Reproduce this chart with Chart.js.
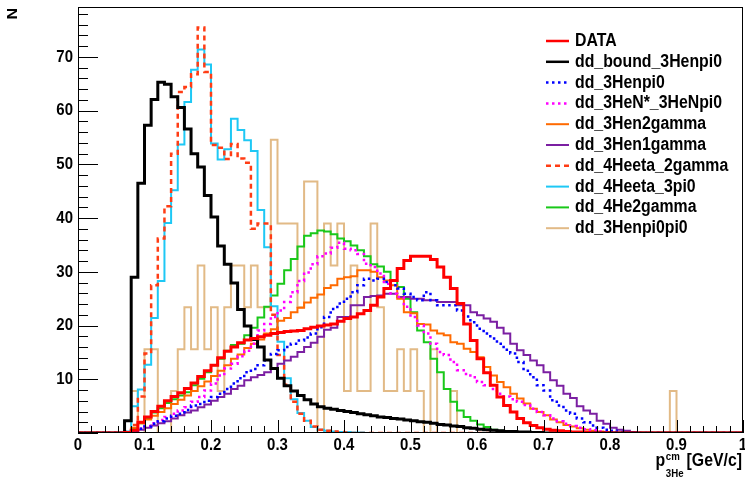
<!DOCTYPE html>
<html>
<head>
<meta charset="utf-8">
<script src="https://cdn.jsdelivr.net/npm/chart.js@4.4.0/dist/chart.umd.min.js"></script>
<style>
    html, body { margin: 0; padding: 0; background: #fff; }
    #wrap { width: 745px; height: 478px; }
</style>
</head>
<body>
<div id="wrap"><canvas id="momentumChart" width="745" height="478"></canvas></div>
<script>
// Binning: 100 bins of 0.01 from 0 to 1, arrays below start at bin 0.07
const binWidth = 0.01;
const nBins = 100;
const firstBin = 7;

// Axis ticks
const xTicks = [0, 0.1, 0.2, 0.3, 0.4, 0.5, 0.6, 0.7, 0.8, 0.9, 1];
const xTickLabels = ["0", "0.1", "0.2", "0.3", "0.4", "0.5", "0.6", "0.7", "0.8", "0.9", "1"];
const yTicks = [10, 20, 30, 40, 50, 60, 70];
const yTickLabels = ["10", "20", "30", "40", "50", "60", "70"];
const yMax = 79.3;

// Series names (legend order)
const seriesNames = ["DATA", "dd_bound_3Henpi0", "dd_3Henpi0", "dd_3HeN*_3HeNpi0", "dd_3Hen2gamma",
    "dd_3Hen1gamma", "dd_4Heeta_2gamma", "dd_4Heeta_3pi0", "dd_4He2gamma", "dd_3Henpi0pi0"];

// Bin contents, from bin 0.07 on
const dataCounts = [0.1, 0.5, 2.0, 3.0, 4.0, 5.0, 6.0, 6.8, 7.5, 8.3,
    9.3, 10.5, 11.6, 12.6, 14.0, 15.2, 16.0, 16.8, 17.3, 17.6,
    17.9, 18.2, 18.5, 18.7, 18.9, 19.0, 19.1, 19.4, 19.7, 19.9,
    20.1, 20.3, 20.8, 21.3, 21.6, 22.2, 22.8, 23.8, 25.3, 26.9,
    28.4, 30.6, 32.1, 32.9, 32.9, 32.9, 32.3, 30.9, 29.0, 26.9,
    24.1, 20.3, 17.2, 13.8, 11.2, 8.9, 6.7, 5.1, 3.9, 2.7,
    1.9, 1.4, 1.0, 0.7, 0.5, 0.4, 0.3, 0.2, 0.2, 0.1];

const boundCounts = [2.3, 29, 46.5, 57.3, 62.1, 65.3, 64.9, 62.6, 60.6, 56.6,
    52.0, 49.5, 44.2, 40.2, 34.8, 31.4, 27.9, 23.0, 19.9, 17.4,
    16.0, 13.6, 12.0, 10.2, 8.8, 7.8, 7.0, 6.2, 5.4, 4.9,
    4.6, 4.4, 4.2, 4.0, 3.8, 3.6, 3.4, 3.2, 3.0, 2.9,
    2.7, 2.6, 2.4, 2.3, 2.1, 2.0, 1.8, 1.6, 1.5, 1.3,
    1.2, 1.0, 0.9, 0.7, 0.6, 0.5, 0.4, 0.3, 0.3, 0.2,
    0.2, 0.1, 0.1];

const henpi0Counts = [0.1, 0.4, 0.8, 1.2, 1.7, 2.2, 2.7, 3.2, 3.6, 4.3,
    5.1, 5.4, 6.0, 6.7, 7.3, 8.2, 9.2, 10.2, 11.3, 11.9,
    12.6, 13.5, 14.7, 15.4, 16.0, 16.6, 17.2, 17.8, 18.5, 19.7,
    21.6, 23.1, 24.1, 25.0, 26.2, 27.5, 28.7, 28.4, 28.7, 28.1,
    27.5, 26.9, 25.9, 25.3, 24.7, 26.2, 24.7, 23.8, 23.8, 23.8,
    22.8, 21.7, 20.6, 19.4, 18.5, 17.6, 16.6, 15.5, 14.8, 13.2,
    11.6, 10.4, 8.9, 7.9, 6.1, 5.1, 4.2, 3.6, 2.7, 2.0,
    1.4, 1.0, 0.6, 0.4, 0.2];

const nstarCounts = [0.1, 0.4, 0.8, 1.3, 1.8, 2.4, 3.0, 3.6, 4.2, 4.8,
    5.8, 6.7, 7.9, 9.2, 10.7, 12.0, 12.9, 14.3, 15.3, 16.6,
    19.1, 20.3, 21.6, 22.8, 24.4, 26.2, 28.3, 29.9, 31.4, 32.9,
    33.4, 34.5, 35.4, 34.3, 34.0, 33.3, 31.5, 30.9, 29.7, 27.8,
    25.9, 25.3, 23.5, 21.6, 20.0, 18.5, 16.6, 15.1, 14.5, 13.2,
    11.7, 11.0, 10.4, 9.5, 8.9, 8.2, 7.3, 6.8, 6.3, 5.8,
    5.2, 4.5, 3.9, 3.3, 2.7, 2.2, 1.7, 1.3, 1.0, 0.7,
    0.5, 0.3, 0.2];

const hen2gCounts = [0.2, 1.0, 1.8, 2.5, 3.2, 3.9, 4.6, 5.4, 6.2, 7.0,
    7.8, 8.7, 9.6, 10.6, 11.6, 12.6, 13.8, 14.6, 15.8, 16.6,
    17.4, 18.5, 19.3, 20.9, 21.4, 22.5, 23.3, 24.3, 25.2, 25.8,
    27.0, 27.5, 28.7, 29.0, 29.2, 30.3, 30.3, 30.0, 29.0, 28.4,
    27.5, 25.0, 22.5, 22.3, 20.3, 20.2, 19.1, 18.5, 18.2, 16.9,
    16.6, 15.7, 15.1, 14.1, 12.3, 10.7, 9.5, 8.5, 7.3, 6.4,
    5.5, 4.5, 3.9, 3.3, 2.5, 2.0, 1.5, 1.2, 0.9, 0.6,
    0.4, 0.3, 0.2];

const hen1gCounts = [0.1, 0.3, 0.6, 1.0, 1.4, 1.8, 2.2, 2.7, 3.3, 3.8,
    4.2, 4.8, 5.3, 6.0, 6.7, 7.3, 8.2, 8.8, 9.8, 10.4,
    10.8, 11.3, 12.0, 12.9, 13.5, 14.2, 15.1, 16.0, 16.8, 17.9,
    19.2, 19.6, 21.6, 21.6, 23.8, 23.8, 25.3, 25.5, 25.6, 25.9,
    25.9, 25.3, 25.3, 25.0, 25.0, 24.7, 24.7, 24.4, 24.4, 24.4,
    23.8, 23.8, 22.5, 21.9, 21.3, 20.7, 19.6, 18.5, 16.6, 15.4,
    14.5, 13.5, 12.6, 11.3, 9.8, 8.8, 7.3, 6.5, 5.0, 4.2,
    3.6, 2.3, 1.7, 1.0, 0.6, 0.4, 0.2];

const eta2gCounts = [0.3, 1.5, 6.8, 14.8, 27.5, 36.2, 42.2, 52.0, 63.5, 64.4,
    66.8, 75.5, 67.2, 53.6, 53.1, 51.0, 53.8, 51.1, 50.3, 38.0,
    39.0, 39.0, 22.0, 14.5, 9.0, 5.8, 3.6, 2.3, 1.2, 0.6,
    0.4, 0.3, 0.2, 0.1];

const eta3pi0Counts = [0.3, 5.0, 8.1, 12.7, 21.4, 28.3, 39.1, 45.2, 53.7, 61.6,
    67.6, 71.4, 68.6, 53.9, 50.9, 52.8, 58.5, 56.4, 54.5, 52.5,
    41.5, 34.6, 23.6, 17.0, 10.2, 6.3, 3.7, 2.3, 1.1, 0.6,
    0.4, 0.3, 0.2, 0.2, 0.1, 0.1];

const he2gCounts = [0.1, 0.8, 1.8, 2.8, 3.8, 4.6, 5.6, 6.3, 7.0, 7.6,
    8.9, 10.1, 11.3, 12.6, 13.8, 15.3, 16.4, 16.6, 18.2, 19.6,
    21.5, 23.5, 25.6, 27.8, 30.3, 32.4, 34.7, 36.7, 37.2, 37.7,
    37.5, 37.0, 36.2, 35.7, 34.9, 34.0, 32.9, 31.4, 31.0, 30.0,
    28.4, 27.2, 25.0, 22.5, 19.1, 16.9, 13.8, 11.3, 8.2, 5.8,
    4.2, 3.0, 2.3, 1.6, 1.1, 0.6, 0.4, 0.2, 0.1];

const pi0pi0Counts = [0, 7.8, 0, 15.6, 15.6, 0, 0, 7.8, 15.6, 23.4,
    15.6, 31.2, 15.6, 23.4, 7.8, 23.4, 31.2, 31.2, 23.4, 31.2,
    23.4, 23.4, 54.6, 39.0, 39.0, 39.0, 23.4, 46.8, 46.8, 0,
    39.0, 31.2, 39.0, 7.8, 31.2, 7.8, 7.8, 39.0, 23.4, 7.8,
    7.8, 15.6, 7.8, 15.6, 7.8, 0, 15.6, 0, 0, 7.8,
    0, 0, 0, 0, 0, 0, 0, 0, 0, 0,
    0, 0, 0, 0, 0, 0, 0, 0, 0, 0,
    0, 0, 0, 0, 0, 0, 0, 0, 0, 0,
    0, 0, 7.8];

const FONT = "'Liberation Sans', Arial, Helvetica, sans-serif";
const SQUEEZE = 0.88; // text in the picture is horizontally condensed

// Turn bin contents into step points (left bin edge + closing point at the upper edge)
function histPoints(counts) {
    const pts = [];
    for (let i = 0; i < nBins; i++) {
        const k = i - firstBin;
        const y = (k >= 0 && k < counts.length) ? counts[k] : 0;
        pts.push({ x: i * binWidth, y: y });
    }
    pts.push({ x: nBins * binWidth, y: pts[pts.length - 1].y });
    return pts;
}

function histDataset(label, counts, color, width, dash) {
    return {
        label: label,
        data: histPoints(counts),
        borderColor: color,
        borderWidth: width,
        borderDash: dash || [],
        stepped: 'before',
        pointRadius: 0,
        fill: false
    };
}

// draw condensed text
function squeezedText(ctx, text, x, y, align) {
    ctx.save();
    ctx.translate(x, y);
    ctx.scale(SQUEEZE, 1);
    ctx.textAlign = align;
    ctx.fillText(text, 0, 0);
    ctx.restore();
}

function squeezedWidth(ctx, text) {
    return ctx.measureText(text).width * SQUEEZE;
}

// Inside ticks, tick labels and frame, ROOT style
const frameTicks = {
    id: 'frameTicks',
    afterDatasetsDraw(chart) {
        const { ctx, chartArea: a, scales: { x, y } } = chart;
        ctx.save();
        ctx.strokeStyle = '#000';
        ctx.lineWidth = 1;
        ctx.setLineDash([]);
        ctx.beginPath();
        for (let i = 0; i <= 50; i++) {
            const px = Math.round(x.getPixelForValue(i * 0.02)) + 0.5;
            const len = i % 5 === 0 ? 13 : 7;
            ctx.moveTo(px, a.bottom);
            ctx.lineTo(px, a.bottom - len);
        }
        for (let i = 0; i * 2 <= yMax; i++) {
            const py = Math.round(y.getPixelForValue(i * 2)) + 0.5;
            const len = i % 5 === 0 ? 20 : 10;
            ctx.moveTo(a.left, py);
            ctx.lineTo(a.left + len, py);
        }
        ctx.stroke();
        ctx.strokeRect(Math.round(a.left) + 0.5, Math.round(a.top) + 0.5,
            Math.round(a.width) - 1, Math.round(a.height) - 1);

        ctx.fillStyle = '#000';
        ctx.font = "bold 17px " + FONT;
        ctx.textBaseline = 'middle';
        xTicks.forEach((v, i) => {
            squeezedText(ctx, xTickLabels[i], x.getPixelForValue(v), a.bottom + 12, 'center');
        });
        yTicks.forEach((v, i) => {
            squeezedText(ctx, yTickLabels[i], a.left - 5, y.getPixelForValue(v), 'right');
        });
        ctx.restore();
    }
};

// Legend box in the upper right, plus axis titles
const legendAndTitles = {
    id: 'legendAndTitles',
    afterDraw(chart) {
        const ctx = chart.ctx;
        ctx.save();
        ctx.font = "bold 18px " + FONT;
        ctx.textBaseline = 'middle';
        ctx.fillStyle = '#000';
        chart.data.datasets.forEach((ds, i) => {
            const yy = 41 + i * 20.8;
            ctx.strokeStyle = ds.borderColor;
            ctx.lineWidth = Math.min(ds.borderWidth, 2.5);
            ctx.setLineDash(ds.borderDash);
            ctx.beginPath();
            ctx.moveTo(546, yy);
            ctx.lineTo(569, yy);
            ctx.stroke();
            squeezedText(ctx, ds.label, 575, yy, 'left');
        });
        ctx.setLineDash([]);

        // x title: p^{cm}_{3He} [GeV/c]
        const right = 742;
        ctx.textBaseline = 'alphabetic';
        ctx.font = "bold 18px " + FONT;
        squeezedText(ctx, '[GeV/c]', right, 466, 'right');
        const wUnit = squeezedWidth(ctx, '[GeV/c]');
        ctx.font = "bold 11px " + FONT;
        const wSub = squeezedWidth(ctx, '3He');
        const blockStart = right - wUnit - 3 - wSub;
        squeezedText(ctx, 'cm', blockStart, 460, 'left');
        squeezedText(ctx, '3He', blockStart, 476.5, 'left');
        ctx.font = "bold 18px " + FONT;
        squeezedText(ctx, 'p', blockStart - 0.5, 466, 'right');

        // y title
        ctx.translate(13.5, 13.7);
        ctx.rotate(-Math.PI / 2);
        ctx.scale(1, SQUEEZE);
        ctx.font = "bold 16px " + FONT;
        ctx.textAlign = 'center';
        ctx.textBaseline = 'middle';
        ctx.fillText('N', 0, 0);
        ctx.restore();
    }
};

function initializeChart() {
    const ctx = document.getElementById('momentumChart').getContext('2d');
    new Chart(ctx, {
        type: 'line',
        data: {
            datasets: [
                histDataset(seriesNames[0], dataCounts, '#ff0000', 3),
                histDataset(seriesNames[1], boundCounts, '#000000', 3),
                histDataset(seriesNames[2], henpi0Counts, '#0000ff', 2.5, [2.5, 3.5]),
                histDataset(seriesNames[3], nstarCounts, '#ff00ff', 2.5, [2.5, 3.5]),
                histDataset(seriesNames[4], hen2gCounts, '#ff6a00', 2),
                histDataset(seriesNames[5], hen1gCounts, '#7b1fa2', 2),
                histDataset(seriesNames[6], eta2gCounts, '#ff3c14', 2.5, [5, 4]),
                histDataset(seriesNames[7], eta3pi0Counts, '#1ec8f5', 2),
                histDataset(seriesNames[8], he2gCounts, '#19c819', 2),
                histDataset(seriesNames[9], pi0pi0Counts, '#e2ba86', 2)
            ]
        },
        options: {
            responsive: false,
            animation: false,
            layout: { padding: { top: 7, right: 2, left: 0, bottom: 0 } },
            plugins: { legend: { display: false }, tooltip: { enabled: false } },
            scales: {
                x: {
                    type: 'linear',
                    min: 0,
                    max: 1,
                    grid: { display: false },
                    border: { display: false },
                    afterBuildTicks: s => { s.ticks = xTicks.map(v => ({ value: v })); },
                    ticks: { display: false },
                    afterFit: s => { s.height = 45; s.paddingLeft = 0; s.paddingRight = 0; }
                },
                y: {
                    min: 0,
                    max: yMax,
                    grid: { display: false },
                    border: { display: false },
                    afterBuildTicks: s => { s.ticks = yTicks.map(v => ({ value: v })); },
                    ticks: { display: false },
                    afterFit: s => { s.width = 78; s.paddingTop = 0; s.paddingBottom = 0; }
                }
            }
        },
        plugins: [frameTicks, legendAndTitles]
    });
}

window.onload = function() {
    initializeChart();
};
</script>
</body>
</html>
